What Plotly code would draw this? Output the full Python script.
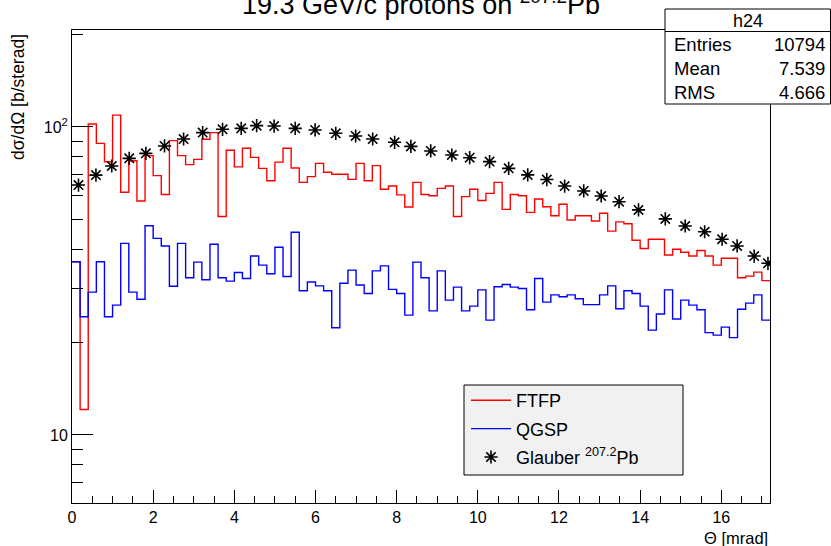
import numpy as np
import plotly.graph_objects as go

# Histogram binning: 86 bins of 0.2 mrad between 0 and 17.2 mrad
theta_lo, theta_hi, n_bins = 0.0, 17.2, 86
theta_edges = np.linspace(theta_lo, theta_hi, n_bins + 1)

# dσ/dΩ per bin [b/sterad]
ftfp = [36.5, 12.1, 102.3, 88.5, 77.1, 109.3, 61.4, 77.7, 57.5, 80.7,
        69.5, 60.4, 90.3, 80.7, 75.5, 78.5, 91.2, 95.9, 51.2, 84.0,
        74.2, 85.3, 79.7, 73.4, 66.9, 76.9, 85.3, 73.6, 66.1, 69.0,
        76.2, 71.3, 70.2, 70.2, 67.6, 76.2, 66.9, 74.9, 62.8, 64.3,
        60.2, 55.0, 66.1, 60.4, 59.8, 63.2, 64.3, 51.2, 59.4, 62.8,
        57.7, 60.9, 66.1, 54.0, 60.4, 59.8, 52.8, 58.4, 55.1, 51.5,
        56.1, 49.9, 51.5, 51.5, 49.5, 52.5, 45.9, 49.2, 48.5, 42.9,
        40.3, 43.2, 43.2, 38.4, 40.1, 39.2, 38.1, 39.7, 38.1, 35.6,
        37.5, 37.5, 32.4, 32.8, 33.8, 31.7]

qgsp = [36.5, 24.2, 29.1, 36.5, 24.2, 26.4, 41.9, 29.1, 27.6, 47.8,
        43.5, 41.1, 30.4, 41.9, 32.4, 36.4, 31.9, 41.6, 32.4, 31.6,
        33.7, 32.2, 38.1, 35.6, 33.4, 40.7, 32.7, 45.5, 29.4, 31.4,
        30.5, 29.4, 22.3, 31.1, 34.3, 30.7, 28.8, 34.1, 35.4, 29.7,
        28.8, 24.5, 36.4, 32.4, 25.3, 34.1, 27.4, 30.2, 25.3, 26.2,
        29.6, 23.6, 30.3, 30.8, 30.2, 29.9, 25.5, 32.2, 27.0, 28.5,
        28.1, 28.5, 27.7, 26.5, 26.5, 28.5, 30.5, 25.7, 29.4, 28.8,
        26.2, 21.9, 24.7, 29.6, 23.8, 27.4, 26.4, 25.5, 21.5, 21.1,
        22.4, 20.7, 25.6, 26.8, 28.5, 23.6]

# Glauber calculation for 207.2Pb
glauber_theta = [0.16, 0.59, 0.98, 1.41, 1.82, 2.28, 2.75, 3.22, 3.71, 4.17,
                 4.55, 4.98, 5.50, 5.99, 6.50, 6.99, 7.41, 7.95, 8.35, 8.84,
                 9.36, 9.80, 10.29, 10.76, 11.23, 11.70, 12.14, 12.61, 13.04, 13.48,
                 13.96, 14.62, 15.11, 15.59, 16.02, 16.39, 16.81, 17.15]
glauber_xs = [64.8, 69.8, 74.7, 79.1, 82.1, 86.8, 91.4, 95.9, 98.3, 99.0,
              101.0, 100.7, 99.0, 97.8, 95.4, 93.5, 91.4, 89.2, 86.5, 83.6,
              81.1, 79.5, 77.2, 73.4, 69.9, 67.5, 64.3, 62.0, 59.7, 57.2,
              53.8, 50.3, 47.7, 45.7, 43.2, 41.1, 38.1, 36.1]

# Statistics box entries
stats_name = "h24"
stats_labels = ["Entries", "Mean", "RMS"]
stats_values = ["10794", "7.539", "4.666"]

FONT = "Liberation Sans, Arial, Helvetica, sans-serif"


def step(vals):
    # outline of a histogram: one point per bin edge, held to the next edge
    return list(theta_edges), list(vals) + [vals[-1]]


fig = go.Figure()
x, y = step(ftfp)
fig.add_trace(go.Scatter(x=x, y=y, mode="lines", line_shape="hv",
                         line=dict(color="#ff0000", width=1.4),
                         name="FTFP", legendgroup="a"))
x, y = step(qgsp)
fig.add_trace(go.Scatter(x=x, y=y, mode="lines", line_shape="hv",
                         line=dict(color="#0000ff", width=1.4),
                         name="QGSP", legendgroup="b"))
fig.add_trace(go.Scatter(x=glauber_theta, y=glauber_xs, mode="markers",
                         marker=dict(symbol="asterisk-open", size=11,
                                     color="black", line=dict(color="black", width=1.6)),
                         name="Glauber <sup>207.2</sup>Pb", legendgroup="c"))

# plot-area geometry (pixels) used to place the boxes in paper units
L, R, T, B = 72, 61, 30, 43
W, H = 831, 546
pw, ph = W - L - R, H - T - B


def px(xp):
    return (xp - L) / pw


def py(yp):
    return (H - B - yp) / ph


fig.update_layout(
    width=W, height=H,
    margin=dict(l=L, r=R, t=T, b=B, pad=0),
    paper_bgcolor="white", plot_bgcolor="white",
    font=dict(family=FONT, color="black", size=16),
    showlegend=True,
    legend=dict(x=px(466), y=py(382), xanchor="left", yanchor="top",
                bgcolor="rgba(0,0,0,0)", borderwidth=0,
                font=dict(size=18, family=FONT), tracegroupgap=2,
                itemwidth=40),
    xaxis=dict(range=[theta_lo, theta_hi], showgrid=False, zeroline=False,
               showline=True, linecolor="black", linewidth=1, mirror=True,
               ticks="inside", ticklen=13, tickwidth=1, tickcolor="black",
               dtick=2, tick0=0,
               minor=dict(ticks="inside", ticklen=7, dtick=0.5, tick0=0,
                          tickcolor="black", showgrid=False),
               tickfont=dict(size=16)),
    yaxis=dict(type="log", range=[0.7792, 2.3149], showgrid=False, zeroline=False,
               showline=True, linecolor="black", linewidth=1, mirror=True,
               ticks="inside", ticklen=21, tickwidth=1, tickcolor="black",
               tickmode="array", tickvals=[10, 100],
               ticktext=["10", "10<sup>2</sup>"],
               minor=dict(ticks="inside", ticklen=11, tickcolor="black",
                          tickmode="array",
                          tickvals=[7, 8, 9, 20, 30, 40, 50, 60, 70, 80, 90, 200],
                          showgrid=False),
               tickfont=dict(size=16)),
)

# legend frame
fig.add_shape(type="rect", xref="paper", yref="paper",
              x0=px(464), x1=px(683), y0=py(475), y1=py(385),
              fillcolor="#f1f1f1", line=dict(color="black", width=1), layer="above")

# title, partly above the page
fig.add_annotation(text="19.3 GeV/c protons on <sup>207.2</sup>Pb",
                   xref="paper", yref="paper", x=0.5, y=1,
                   xanchor="center", yanchor="bottom", yshift=8,
                   showarrow=False, font=dict(size=27, family=FONT))

# axis titles
fig.add_annotation(text="Θ [mrad]", xref="paper", yref="paper", x=1, y=0,
                   xanchor="right", yanchor="top", yshift=-24,
                   showarrow=False, font=dict(size=16.5, family=FONT))
fig.add_annotation(text="dσ/dΩ [b/sterad]", xref="paper", yref="paper",
                   x=0, y=1, xanchor="center", yanchor="top", xshift=-54, yshift=-2,
                   textangle=-90, showarrow=False, font=dict(size=17.5, family=FONT))

# statistics box
sx0, sx1, sy0, sy1, sh = 665, 830.5, 9, 104, 31.5
fig.add_shape(type="rect", xref="paper", yref="paper",
              x0=px(sx0), x1=px(sx1), y0=py(sy1), y1=py(sy0),
              fillcolor="white", line=dict(color="black", width=1), layer="above")
fig.add_shape(type="line", xref="paper", yref="paper",
              x0=px(sx0), x1=px(sx1), y0=py(sh), y1=py(sh),
              line=dict(color="black", width=1), layer="above")
fig.add_annotation(text=stats_name, xref="paper", yref="paper",
                   x=px((sx0 + sx1) / 2), y=py(20.5), xanchor="center", yanchor="middle",
                   showarrow=False, font=dict(size=18, family=FONT))
for i, (lab, val) in enumerate(zip(stats_labels, stats_values)):
    yc = py(44 + 24.3 * i)
    fig.add_annotation(text=lab, xref="paper", yref="paper", x=px(672), y=yc,
                       xanchor="left", yanchor="middle", showarrow=False,
                       font=dict(size=18.5, family=FONT))
    fig.add_annotation(text=val, xref="paper", yref="paper", x=px(827), y=yc,
                       xanchor="right", yanchor="middle", showarrow=False,
                       font=dict(size=18.5, family=FONT))

fig.write_html("out.html")
